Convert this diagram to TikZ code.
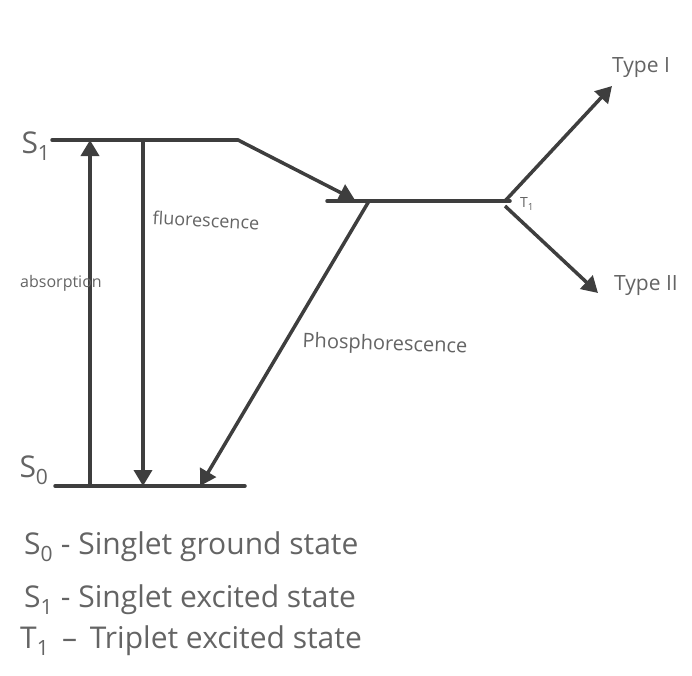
\documentclass[tikz,border=0pt]{standalone}
\usepackage{fontspec}
\setmainfont{Open Sans}
\usetikzlibrary{arrows.meta}
\definecolor{ink}{RGB}{62,62,62}
\definecolor{pencil}{RGB}{100,100,100}
\tikzset{
  level/.style={draw=ink, line width=3.5pt, line cap=round},
  trans/.style={draw=ink, line width=3.5pt, -{Triangle[width=18pt,length=16pt]}},
  lbl/.style={text=pencil, font=\fontsize{18}{20}\selectfont, inner sep=0pt},
  big/.style={text=pencil, font=\fontsize{30}{32}\selectfont, inner sep=0pt},
  legend/.style={text=pencil, font=\fontsize{30}{32}\selectfont, inner sep=0pt, anchor=west}
}
\begin{document}
\begin{tikzpicture}[x=1pt,y=-1pt]
\useasboundingbox (0,0) rectangle (692,675);
% energy levels
\coordinate (s1l) at (52,140);
\coordinate (s1r) at (238,140);
\coordinate (s0l) at (55,486);
\coordinate (s0r) at (245,486);
\coordinate (t1l) at (327,201);
\coordinate (t1r) at (510,201);
\draw[level] (s1l) -- (s1r);
\draw[level] (s0l) -- (s0r);
\draw[level] (t1l) -- (t1r);
% anchor coordinates for transitions
\coordinate (absB) at (90,486);
\coordinate (absT) at (90,140);
\coordinate (fluT) at (143,140);
\coordinate (fluB) at (143,486);
\coordinate (iscE) at (355,200);
\coordinate (phoS) at (369,201);
\coordinate (phoE) at (200,486);
\coordinate (t1a) at (505,201);
\coordinate (t1ii) at (505,206);
\coordinate (typeIend) at (612,86);
\coordinate (typeIIend) at (598,293);
\draw[trans] (absB) -- (absT);
\draw[trans] (fluT) -- (fluB);
\draw[trans] (s1r) -- (iscE);
\draw[trans] (phoS) -- (phoE);
\draw[trans] (t1a) -- (typeIend);
\draw[trans] (t1ii) -- (typeIIend);
% labels
\node[big] (S1) at (36,146) {S\textsubscript{1}};
\node[big] (S0) at (34,470) {S\textsubscript{0}};
\node[lbl, font=\fontsize{14}{16}\selectfont] (T1) at (527,204) {T\textsubscript{1}};
\node[lbl, rotate=-3] (fluor) at (206,220) {fluorescence};
\node[lbl, font=\fontsize{16}{18}\selectfont] (absorp) at (61,283) {absorption};
\node[lbl, rotate=-2, font=\fontsize{20}{22}\selectfont] (phos) at (385,345) {Phosphorescence};
\node[lbl, font=\fontsize{21}{23}\selectfont] (typeI) at (641,68) {Type I};
\node[lbl, font=\fontsize{21}{23}\selectfont] (typeII) at (646,286) {Type II};
% legend
\node[legend] (leg0) at (24,547) {S\textsubscript{0} - Singlet ground state};
\node[legend] (leg1) at (24,600) {S\textsubscript{1} - Singlet excited state};
\node[legend] (leg2) at (20,641) {T\textsubscript{1} \,--\, Triplet excited state};
\end{tikzpicture}
\end{document}
